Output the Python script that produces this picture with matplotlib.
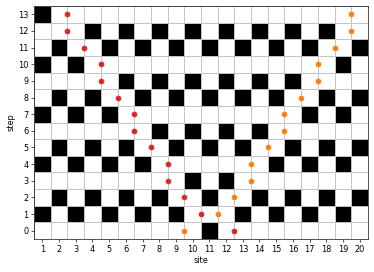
import matplotlib.pyplot as plt
import numpy as np

sites = np.arange(1, 21)
steps = np.arange(0, 14)

# black cells per step (site numbers)
black = {
    0: [11],
    1: [1, 3, 5, 7, 9, 13, 15, 17, 19],
    2: [2, 4, 6, 8, 11, 14, 16, 18, 20],
    3: [10, 12],
    4: [1, 3, 5, 7, 15, 17, 19],
    5: [2, 4, 6, 9, 11, 13, 16, 18, 20],
    6: [8, 10, 12, 14],
    7: [1, 3, 5, 17, 19],
    8: [2, 4, 7, 9, 11, 13, 15, 18, 20],
    9: [6, 8, 10, 12, 14, 16],
    10: [1, 3, 19],
    11: [2, 5, 7, 9, 11, 13, 15, 17, 20],
    12: [4, 6, 8, 10, 12, 14, 16, 18],
    13: [1],
}

red_x = [12.5, 10.5, 9.5, 8.5, 8.5, 7.5, 6.5, 6.5, 5.5, 4.5, 4.5, 3.5, 2.5, 2.5]
red_y = [0, 1, 2, 3, 4, 5, 6, 7, 8, 9, 10, 11, 12, 13]
orange_x = [9.5, 11.5, 12.5, 13.5, 13.5, 14.5, 15.5, 15.5, 16.5, 17.5, 17.5, 18.5, 19.5, 19.5]
orange_y = [0, 1, 2, 3, 4, 5, 6, 7, 8, 9, 10, 11, 12, 13]

grid = np.zeros((len(steps), len(sites)))
for s, cols in black.items():
    for c in cols:
        grid[s, c - 1] = 1

fig = plt.figure(figsize=(374 / 58.5, 272 / 58.5), dpi=58.5)
ax = fig.add_axes([34 / 374, 33 / 272, 334 / 374, 233 / 272])

ax.pcolormesh(np.arange(0.5, 21), np.arange(-0.5, 14), grid, cmap='gray_r',
              vmin=0, vmax=1, edgecolors='#c4c4c4', linewidth=0.9)
ax.plot(red_x, red_y, 'o', color='#d62728', linestyle='none')
ax.plot(orange_x, orange_y, 'o', color='#ff7f0e', linestyle='none')

ax.set_xlim(0.5, 20.5)
ax.set_ylim(-0.5, 13.5)
ax.set_xticks(sites)
ax.set_yticks(steps)
ax.set_xlabel('site', labelpad=3)
ax.set_ylabel('step', labelpad=3)

fig.savefig('out.png', dpi=58.5)
